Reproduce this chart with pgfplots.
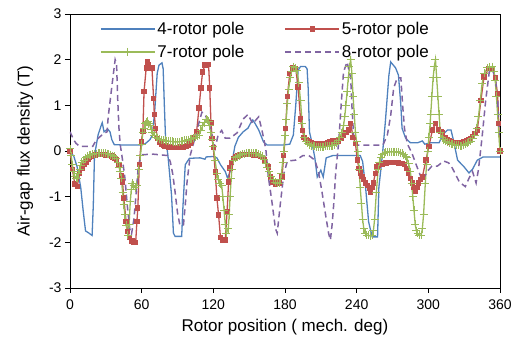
\documentclass[border=0pt]{standalone}
\usepackage{fontspec}
\setmainfont{Liberation Sans}
\usepackage{pgfplots}
\pgfplotsset{compat=1.18}
\definecolor{cB}{HTML}{4F81BD}
\definecolor{cR}{HTML}{C0504D}
\definecolor{cG}{HTML}{9BBB59}
\definecolor{cP}{HTML}{8064A2}
\begin{document}
\begin{tikzpicture}
\begin{axis}[
  scale only axis, width=430pt, height=274pt,
  xmin=0, xmax=360, ymin=-3, ymax=3,
  xtick={0,60,...,360}, ytick={-3,-2,...,3},
  tick pos=left, tick align=outside, major tick length=5pt,
  tick style={black, line width=0.8pt},
  axis line style={black, line width=0.9pt},
  /pgf/number format/assume math mode=true,
  ticklabel style={font=\fontsize{14}{16}\selectfont},
  xticklabel style={yshift=-3pt},
  xlabel={Rotor position ( mech. deg)},
  ylabel={Air-gap flux density (T)},
  label style={font=\fontsize{17}{19}\selectfont},
  xlabel style={yshift=-3pt},
  ylabel style={yshift=9pt},
  legend columns=2,
  legend style={draw=none, fill=none, at={(0,1)}, anchor=north west, xshift=27pt, yshift=-4pt,
     font=\fontsize{17}{19}\selectfont, row sep=5pt,
     /tikz/every even column/.append style={column sep=38pt}},
  legend image code/.code={\draw[mark repeat=2,mark phase=2] plot coordinates {(0pt,0pt)(27pt,0pt)(54pt,0pt)};},
]
\addplot[cB, line width=1.3pt] coordinates {
(0,-0.05)(3,-0.1)(6,-0.35)(9,-0.8)(11,-1.3)(13,-1.75)(16,-1.8)(18.5,-1.85)(19.5,-1.2)(20.5,-0.1)(23.5,0.35)(26,0.55)(27,0.62)(28.5,0.42)(30,0.45)(31.5,0.48)(33.5,0.42)(35,0.25)(37,0.14)(45,0.13)(60,0.13)(63,0.16)(67,0.25)(69,0.35)(71,0.9)(73,1.7)(74.5,1.88)(77,1.93)(78,1.8)(79,1.0)(80,0.28)(82,-0.1)(85,-0.96)(86.6,-1.8)(88,-1.87)(93.5,-1.87)(94.5,-1.25)(96.5,-0.3)(100,-0.16)(109,-0.15)(113,-0.18)(114,-0.13)(120,-0.12)(123,-0.15)(126,-0.3)(130,-0.45)(132,-0.6)(134,-0.45)(136,-0.2)(138,0.1)(141,0.3)(145,0.42)(149,0.5)(151,0.6)(153,0.68)(155,0.6)(158,0.46)(162,0.2)(165,0.13)(178,0.13)(184,0.15)(187,0.35)(189,1.0)(191,1.77)(193,1.85)(197,1.85)(198.5,1.8)(199.4,1.38)(200.5,0.42)(203,0.13)(205,-0.15)(207,-0.57)(210,-0.42)(212,-0.57)(214.5,-0.15)(220,-0.1)(243,-0.1)(245,-0.23)(247.5,-0.8)(250,-1.55)(253,-1.88)(257.5,-1.88)(258.6,-0.8)(261.5,-0.1)(264,0.63)(267,1.66)(268.5,1.95)(272.6,1.82)(275,1.66)(277,1.0)(278,0.5)(281,0.28)(285,0.18)(291,0.18)(295,0.22)(297,0.15)(302,0.18)(309,0.18)(312,0.35)(316,0.46)(319,0.46)(321,0.24)(324.5,-0.2)(330,-0.35)(334,-0.48)(337,-0.4)(341,-0.2)(346,-0.13)(360,-0.13)
};
\addlegendentry{4-rotor pole}
\addplot[cR, line width=1.3pt, mark=square*, mark size=2pt, mark options={solid}] coordinates {
(0,0.0)(2,-0.4)(4,-0.72)(6,-0.78)(8,-0.5)(10.5,-0.37)(12,-0.3)(13.5,-0.24)(15,-0.18)(16.5,-0.14)(18,-0.12)(19.5,-0.1)(21,-0.09)(22.5,-0.08)(24,-0.08)(25.5,-0.08)(27,-0.08)(28.5,-0.08)(30,-0.09)(31.5,-0.1)(33,-0.1)(34.5,-0.11)(36,-0.13)(37.5,-0.16)(39,-0.2)(41,-0.3)(43,-0.55)(44,-0.68)(45,-1.03)(47,-1.55)(48.4,-1.77)(50,-1.9)(52,-1.97)(53.5,-2.0)(55,-2.0)(56,-1.55)(56.8,-1.25)(58,-0.3)(59.6,0.2)(61,0.42)(62,1.3)(63.8,1.82)(64.6,1.95)(66,1.88)(68.6,1.82)(70,1.15)(70.6,0.8)(71.6,0.5)(73.5,0.28)(75,0.2)(76.5,0.15)(78,0.12)(79.5,0.11)(81,0.1)(82.5,0.09)(84,0.09)(85.5,0.08)(87,0.08)(88.5,0.08)(90,0.08)(91.5,0.08)(93,0.09)(94.5,0.09)(96,0.1)(97.5,0.11)(99,0.13)(100.5,0.16)(102,0.22)(103.5,0.3)(106,0.42)(108,0.94)(109.6,1.38)(111,1.73)(113,1.88)(116,1.9)(117,1.38)(118,0.63)(119,0.28)(120,0.07)(121.6,-0.46)(123,-1.03)(124.4,-1.4)(126,-1.9)(127.5,-1.95)(130,-1.95)(131.5,-1.33)(132.8,-0.68)(134,-0.37)(135.5,-0.25)(137,-0.17)(138.5,-0.13)(140,-0.11)(141.5,-0.1)(143,-0.09)(144.5,-0.08)(146,-0.08)(147.5,-0.08)(149,-0.08)(150.5,-0.08)(152,-0.08)(153.5,-0.09)(155,-0.09)(156.5,-0.1)(158,-0.1)(159.5,-0.12)(161,-0.15)(163,-0.2)(166,-0.35)(168,-0.57)(170,-0.68)(172,-0.72)(175,-0.7)(177.5,-0.57)(179,-0.1)(180.5,0.5)(182,1.2)(184,1.7)(186,1.82)(189,1.8)(191,1.4)(193,0.7)(194.5,0.45)(196,0.3)(197.5,0.25)(199,0.22)(200.5,0.2)(202,0.18)(203.5,0.17)(205,0.16)(206.5,0.15)(208,0.15)(209.5,0.15)(211,0.15)(212.5,0.16)(214,0.17)(215.5,0.18)(217,0.2)(218.5,0.21)(220,0.22)(221.5,0.22)(223,0.22)(225,0.22)(227,0.28)(229,0.35)(231,0.4)(233,0.46)(235,0.6)(237,0.3)(239,0.17)(240.5,-0.2)(242,-0.38)(243,-0.48)(244.5,-0.56)(246,-0.63)(247.5,-0.7)(249,-0.75)(250.5,-0.82)(251.7,-0.9)(253,-0.8)(254,-0.7)(255.5,-0.5)(257,-0.35)(258.5,-0.32)(260,-0.3)(261.5,-0.29)(263,-0.27)(264.5,-0.26)(266,-0.25)(267.5,-0.25)(269,-0.25)(270.5,-0.25)(272,-0.25)(273.5,-0.25)(275,-0.26)(276.5,-0.27)(278,-0.28)(280,-0.3)(282,-0.38)(283.6,-0.48)(285,-0.6)(286.6,-0.7)(288,-0.8)(289,-0.88)(290.5,-0.8)(292,-0.7)(293.5,-0.62)(295,-0.57)(298,-0.2)(300.5,0.1)(303.4,0.46)(306,0.6)(308.7,0.46)(310.5,0.42)(312,0.4)(314,0.3)(316,0.24)(317.5,0.22)(319,0.2)(320.5,0.19)(322,0.18)(323.5,0.18)(325,0.18)(326.5,0.18)(328,0.19)(329.5,0.2)(331,0.21)(332.5,0.23)(334,0.25)(335.6,0.28)(337,0.32)(339,0.38)(341,0.46)(344,1.1)(346.6,1.62)(350.7,1.8)(354,1.8)(356,1.6)(358,1.25)(359,0.6)(360,0.0)
};
\addlegendentry{5-rotor pole}
\addplot[cG, line width=1.3pt, mark=+, mark size=4pt, mark options={solid, line width=0.9pt}] coordinates {
(0,0.05)(1,-0.1)(2,-0.3)(3,-0.45)(4,-0.55)(5,-0.6)(6,-0.6)(7,-0.5)(8,-0.4)(9,-0.32)(10,-0.25)(11.5,-0.2)(13,-0.15)(14.5,-0.11)(16,-0.09)(17.5,-0.08)(19,-0.07)(20.5,-0.06)(22,-0.06)(23.5,-0.05)(25,-0.05)(26.5,-0.05)(28,-0.05)(29.5,-0.05)(31,-0.06)(32.5,-0.07)(34,-0.08)(35.5,-0.1)(37,-0.12)(38.5,-0.17)(40,-0.25)(41,-0.35)(42,-0.45)(43,-0.6)(44,-0.9)(45,-1.18)(46,-1.4)(47,-1.62)(48.4,-1.84)(49.5,-1.6)(50.5,-1.1)(51.3,-0.85)(52,-0.7)(53.2,-0.75)(54.5,-0.8)(56,-0.75)(57.5,-0.4)(59,-0.1)(60,0.15)(61,0.4)(62,0.5)(63,0.6)(64,0.63)(65,0.65)(66,0.6)(67,0.55)(68,0.47)(69,0.4)(70.5,0.35)(72,0.3)(73.5,0.28)(75,0.26)(76.5,0.25)(78,0.24)(79.5,0.23)(81,0.22)(82.5,0.22)(84,0.21)(85.5,0.21)(87,0.2)(88.5,0.2)(90,0.2)(91.5,0.2)(93,0.21)(94.5,0.22)(96,0.23)(97.5,0.24)(99,0.25)(100.5,0.26)(102,0.27)(103.5,0.28)(105,0.3)(106.5,0.33)(108,0.35)(109.5,0.45)(111,0.55)(112.5,0.62)(114,0.7)(115,0.68)(116,0.65)(117,0.55)(118,0.4)(119,0.25)(120,0.1)(121.5,-0.2)(123,-0.5)(124,-0.62)(125,-0.7)(126,-0.72)(127,-0.75)(128,-1.0)(129,-1.3)(130,-1.6)(131,-1.8)(132.5,-1.7)(133.3,-1.4)(134,-1.0)(135,-0.6)(135.5,-0.4)(137,-0.2)(138.5,-0.15)(140,-0.12)(141.5,-0.1)(143,-0.08)(144.5,-0.07)(146,-0.06)(147.5,-0.05)(149,-0.05)(150.5,-0.05)(152,-0.05)(153.5,-0.05)(155,-0.05)(156.5,-0.05)(158,-0.07)(159.5,-0.09)(161,-0.12)(162.5,-0.18)(164,-0.27)(165,-0.35)(166.5,-0.45)(168,-0.55)(170,-0.63)(172,-0.68)(173.5,-0.7)(175,-0.7)(176,-0.62)(177,-0.5)(178,-0.25)(179,0.0)(180,0.35)(181,0.7)(182,1.05)(183,1.35)(184.5,1.6)(185.5,1.75)(187,1.85)(188.5,1.82)(190,1.77)(191.5,1.5)(193,1.1)(194.4,0.6)(196,0.3)(197.5,0.22)(199,0.17)(200.5,0.14)(202,0.12)(203.5,0.11)(205,0.1)(206.5,0.09)(208,0.08)(209.5,0.08)(211,0.08)(212.5,0.09)(214,0.1)(215.5,0.1)(217,0.11)(218.5,0.12)(220,0.12)(221.5,0.14)(223,0.18)(224.5,0.23)(226,0.3)(227.5,0.4)(229,0.55)(230,0.75)(231,1.0)(232,1.3)(233,1.6)(234,1.85)(235,2.0)(236,1.7)(237,1.2)(238,0.8)(239,0.4)(240,0.2)(241,0.0)(242,-0.4)(243,-0.8)(244,-1.15)(245,-1.5)(246,-1.7)(247,-1.8)(248.5,-1.84)(250,-1.85)(251.5,-1.86)(253,-1.85)(254,-1.75)(255,-1.5)(256.5,-0.9)(258,-0.4)(259,-0.25)(260,-0.15)(261.5,-0.08)(263,-0.05)(264.5,-0.03)(266,-0.02)(267.5,-0.02)(269,-0.02)(270.5,-0.02)(272,-0.02)(273.5,-0.02)(275,-0.03)(276.5,-0.04)(278,-0.05)(279.5,-0.08)(281,-0.12)(282,-0.15)(283.5,-0.28)(285,-0.45)(286,-0.7)(287,-1.0)(288,-1.3)(289,-1.6)(290,-1.75)(291,-1.8)(292.5,-1.84)(294,-1.85)(295,-1.7)(296,-1.4)(297.5,-0.7)(298.5,-0.3)(299.5,0.0)(300.5,0.3)(301.5,0.6)(302,0.8)(303,1.2)(304,1.6)(305,1.85)(306,2.0)(307,1.6)(308,1.2)(309,0.8)(310,0.4)(311.5,0.3)(313,0.25)(314.5,0.22)(316,0.19)(317.5,0.17)(319,0.16)(320.5,0.15)(322,0.14)(323.5,0.13)(325,0.13)(326.5,0.12)(328,0.12)(329.5,0.13)(331,0.15)(332.5,0.17)(334,0.19)(335.5,0.22)(337,0.27)(339,0.35)(340.5,0.5)(342,0.75)(343.5,1.1)(345,1.48)(347,1.7)(349.5,1.82)(351.5,1.84)(353.7,1.85)(355,1.75)(356,1.55)(357,1.2)(358,0.8)(359,0.4)(360,0.0)
};
\addlegendentry{7-rotor pole}
\addplot[cP, line width=1.5pt, dash pattern=on 6pt off 4pt] coordinates {
(0,0.42)(3,0.25)(5,0.17)(8,0.1)(19,0.1)(22,0.24)(28,0.38)(31,0.42)(32,0.75)(33.6,1.1)(36,1.62)(37.8,2.0)(39,1.9)(40,1.1)(41,0.5)(42,0.15)(44,-0.2)(46,-0.6)(48,-1.2)(50,-1.7)(51.5,-1.82)(53.5,-1.5)(55.5,-0.9)(57,-0.4)(59,-0.15)(61,-0.08)(70,-0.07)(82,-0.1)(84,-0.24)(86,-0.5)(88,-0.9)(90,-1.35)(92,-1.62)(95,-1.62)(96.5,-1.18)(98,-0.68)(100.7,-0.09)(103,0.13)(106,0.42)(109,0.72)(110.5,0.85)(113,0.8)(116,0.63)(119,0.35)(121.6,0.07)(124,0.35)(127,0.45)(130,0.28)(134,0.28)(140,0.4)(145,0.7)(149,0.8)(153,0.6)(158,0.75)(161,0.42)(164,0.03)(166,-0.55)(169,-1.1)(172,-1.7)(173.5,-1.8)(176,-1.18)(179,-0.5)(182,-0.22)(189,-0.2)(195,-0.1)(200,-0.1)(205,-0.2)(208,-0.45)(211,-0.9)(214,-1.4)(216.5,-1.8)(218,-1.95)(219.5,-1.6)(221,-1.1)(222.5,-0.45)(225,0.2)(227,1.0)(229,1.73)(232,1.95)(235,1.6)(236,1.0)(237.5,0.3)(239,0.13)(262,0.13)(265.7,0.35)(268.5,0.78)(271,1.38)(274,1.6)(277,1.6)(278.5,1.0)(280,0.5)(282.5,0.15)(286,-0.03)(291,-0.38)(295,-0.65)(299,-0.45)(303,-0.33)(307.6,-0.33)(313,-0.22)(317,-0.26)(320,-0.37)(323,-0.52)(326,-0.68)(331,-0.78)(334,-0.6)(337,-0.45)(340,-0.7)(342,-0.4)(345,0.3)(348,1.1)(351,1.73)(353.7,1.77)(356,1.62)(358,1.15)(359,0.6)(360,0.35)
};
\addlegendentry{8-rotor pole}
\end{axis}
\path ([xshift=-70pt,yshift=-61pt]current axis.south west) rectangle ([xshift=15pt,yshift=14pt]current axis.north east);
\end{tikzpicture}
\end{document}
